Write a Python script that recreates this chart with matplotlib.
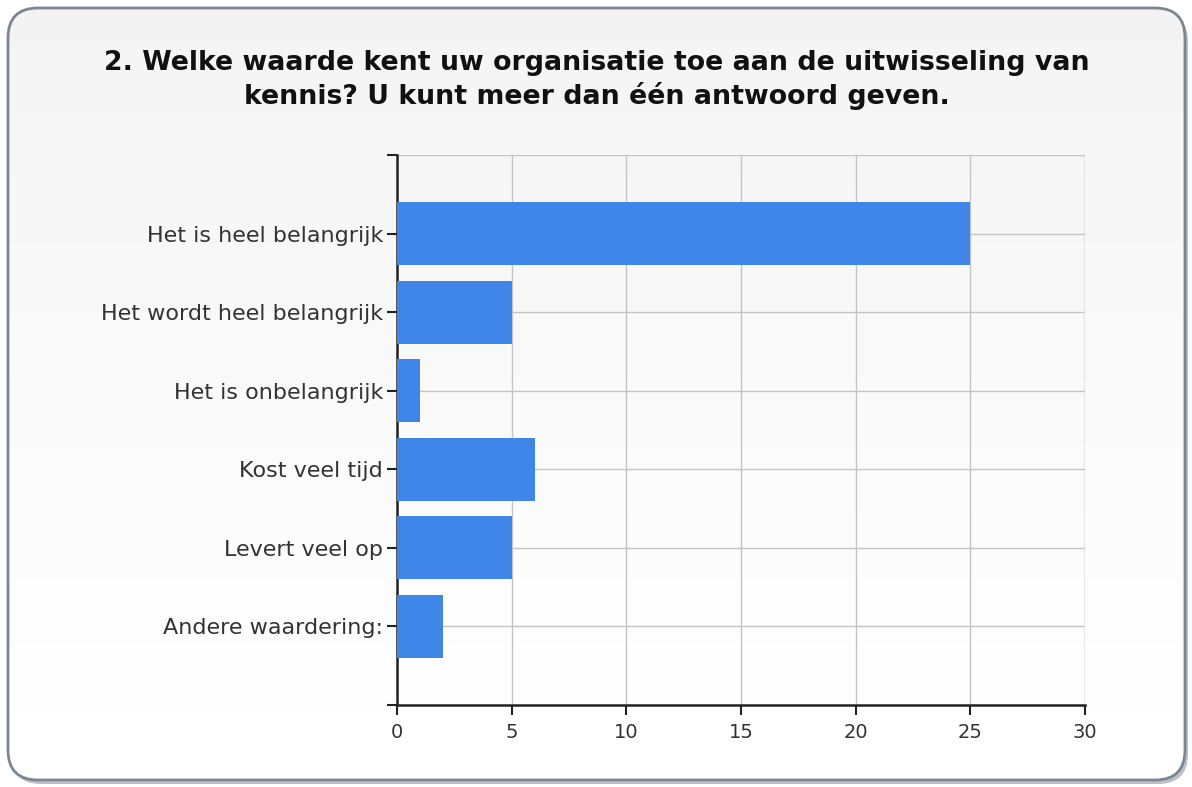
import matplotlib.pyplot as plt
from matplotlib.patches import FancyBboxPatch
import numpy as np

plt.rcParams['font.family'] = ['DejaVu Sans']

# answers, top to bottom as shown
categories = ['Het is heel belangrijk', 'Het wordt heel belangrijk', 'Het is onbelangrijk',
              'Kost veel tijd', 'Levert veel op', 'Andere waardering:']
counts = [25, 5, 1, 6, 5, 2]
xticks = [0, 5, 10, 15, 20, 25, 30]
title = '2. Welke waarde kent uw organisatie toe aan de uitwisseling van\nkennis? U kunt meer dan één antwoord geven.'

W, H = 1192, 787
fig = plt.figure(figsize=(W / 100, H / 100), dpi=100)
fig.patch.set_facecolor('white')

# background axes holding the rounded frame with a soft gradient
bg = fig.add_axes([0, 0, 1, 1], zorder=-10)
frame = FancyBboxPatch((8, 7), 1177, 772, boxstyle='round,pad=0,rounding_size=30',
                       facecolor='none', edgecolor='#7a8693', linewidth=2.0, zorder=3)
grad = np.linspace(0.955, 1.0, 256).reshape(-1, 1)
img = bg.imshow(grad, extent=(8, 1185, 7, 779), cmap='gray', vmin=0, vmax=1,
                aspect='auto', zorder=1, origin='upper')
bg.add_patch(frame)
img.set_clip_path(frame)
shadow = FancyBboxPatch((11, 3), 1177, 772, boxstyle='round,pad=0,rounding_size=30',
                        facecolor='#c0c0c0', edgecolor='none', zorder=0)
bg.add_patch(shadow)
bg.set_xlim(0, W)
bg.set_ylim(0, H)
bg.axis('off')

ax = fig.add_axes([397 / W, 1 - 705 / H, 688 / W, 550 / H])
ax.set_facecolor('none')

n = len(categories)
ypos = np.arange(n, 0, -1)
ax.barh(ypos, counts, height=0.8, color='#3f86e8', zorder=3)

ax.set_xlim(0, 30)
ax.set_ylim(0, n + 1)
ax.set_xticks(xticks)
ax.set_yticks(ypos)
ax.set_yticklabels(categories)
ax.set_yticks([0, n + 1], minor=True)
ax.tick_params(axis='y', which='minor', length=7, width=1.5, color='#222222')

ax.grid(True, color='#c4c4c4', linewidth=1.0, zorder=0)
ax.axhline(n + 1, color='#c4c4c4', linewidth=1.0, zorder=0)
ax.axvline(30, color='#c4c4c4', linewidth=1.0, zorder=0)

for s in ['top', 'right']:
    ax.spines[s].set_visible(False)
for s in ['left', 'bottom']:
    ax.spines[s].set_linewidth(1.8)
    ax.spines[s].set_color('#222222')

ax.tick_params(axis='both', which='major', length=7, width=1.5, color='#222222',
               labelcolor='#333333')
ax.tick_params(axis='y', labelsize=16, pad=3)
ax.tick_params(axis='x', labelsize=14, pad=6)

fig.text(0.501, 1 - 80 / H, title, ha='center', va='center', fontsize=19.3,
         fontweight='bold', color='#111111', linespacing=1.25)

plt.savefig('out.png', dpi=100, facecolor=fig.get_facecolor())
